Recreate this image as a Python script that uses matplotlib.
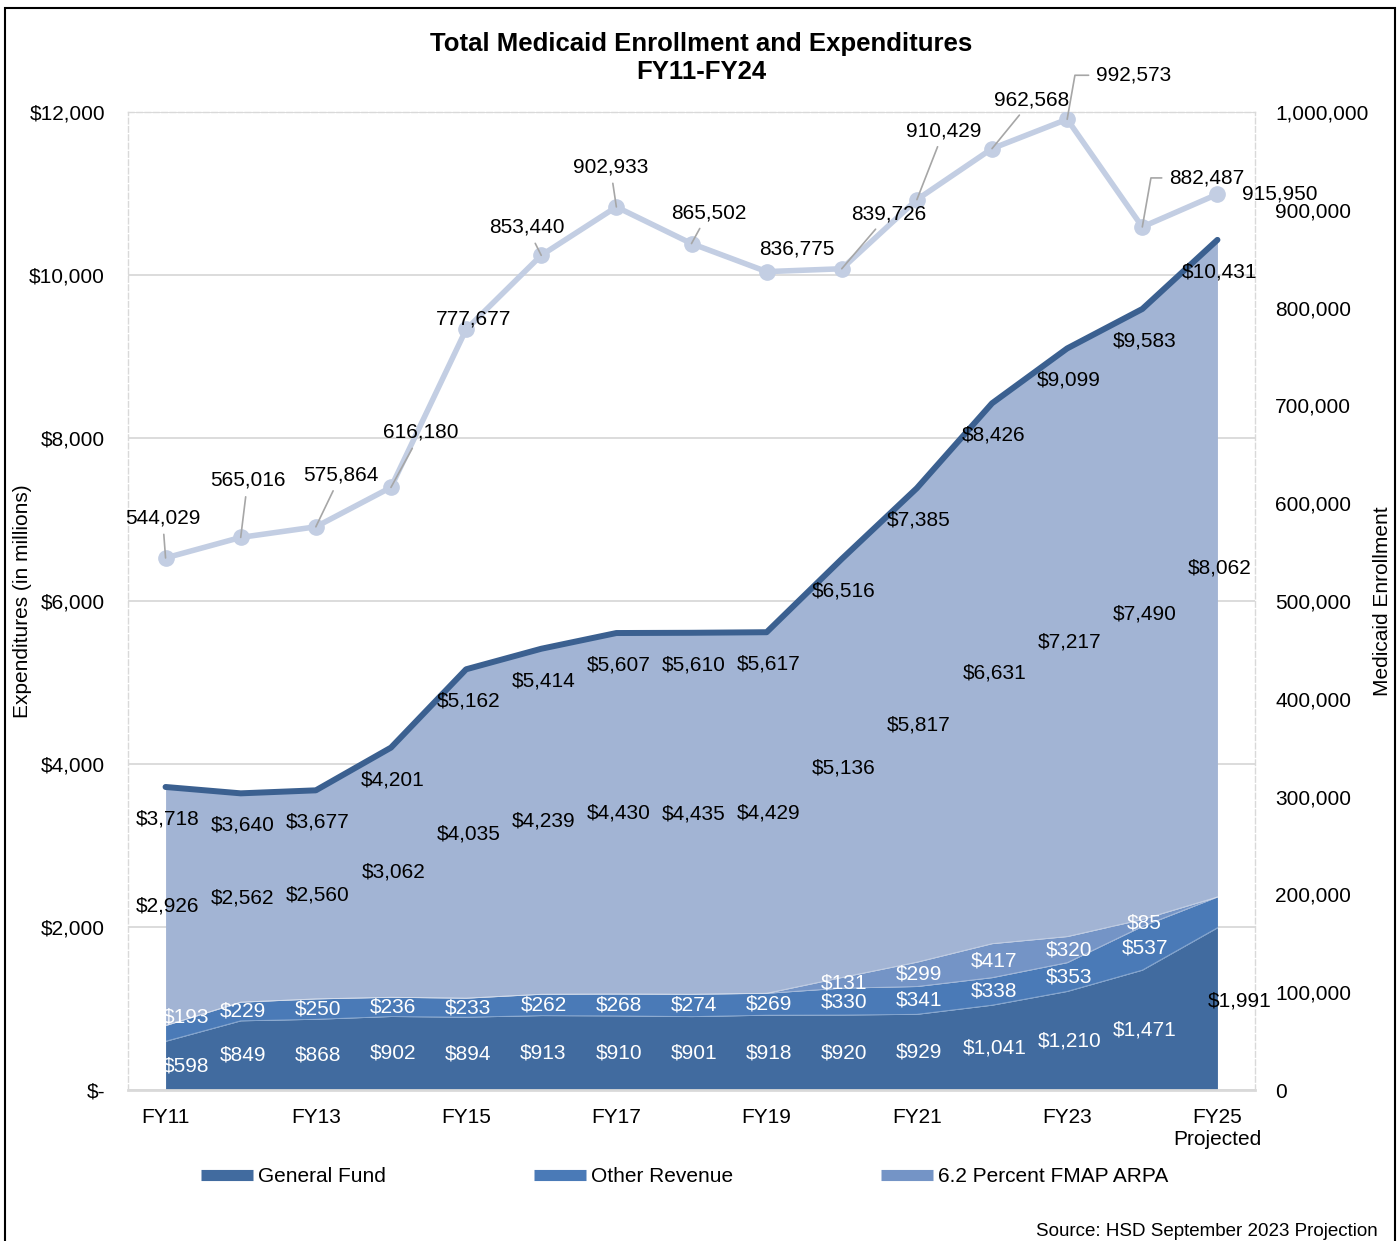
import matplotlib
matplotlib.use("Agg")
from matplotlib import pyplot as plt
from matplotlib.lines import Line2D
from matplotlib.patches import Rectangle
from matplotlib.ticker import FuncFormatter, MultipleLocator
import numpy as np

plt.rcParams['font.family'] = ['Liberation Sans', 'DejaVu Sans']

# fiscal years FY11..FY25
years = ["FY11", "FY12", "FY13", "FY14", "FY15", "FY16", "FY17", "FY18",
         "FY19", "FY20", "FY21", "FY22", "FY23", "FY24", "FY25\nProjected"]

general_fund = [598, 849, 868, 902, 894, 913, 910, 901, 918, 920, 929, 1041, 1210, 1471, 1991]
other_revenue = [193, 229, 250, 236, 233, 262, 268, 274, 269, 330, 341, 338, 353, 537, 378]
fmap_arpa = [0, 0, 0, 0, 0, 0, 0, 0, 0, 131, 299, 417, 320, 85, 0]
federal = [2926, 2562, 2560, 3062, 4035, 4239, 4430, 4435, 4429, 5136, 5817, 6631, 7217, 7490, 8062]
total = [3718, 3640, 3677, 4201, 5162, 5414, 5607, 5610, 5617, 6516, 7385, 8426, 9099, 9583, 10431]
enrollment = [544029, 565016, 575864, 616180, 777677, 853440, 902933, 865502,
              836775, 839726, 910429, 962568, 992573, 882487, 915950]

# label offsets for enrollment (pixels)
enr_offsets = [(-3, 40), (7, 57), (25, 52), (30, 55), (7, 10), (-14, 28), (-6, 40), (17, 31),
               (30, 23), (47, 55), (27, 69), (40, 49), (66, 44), (64, 49), (62, 0)]
no_leader = [4, 8, 14]

c_gf = "#416B9F"
c_or = "#4A7AB7"
c_fmap = "#7494C6"
c_fed = "#A2B4D4"
c_total = "#3B6090"
c_enr = "#C3CEE3"

x = np.arange(len(years))
gf = np.array(general_fund)
orv = np.array(other_revenue)
fm = np.array(fmap_arpa)
fed = np.array(federal)
b1 = gf
b2 = b1 + orv
b3 = b2 + fm
b4 = b3 + fed

fig = plt.figure(figsize=(14, 12.41), dpi=100)
ax = fig.add_axes([128 / 1400, 1 - 1090 / 1241, (1255 - 128) / 1400, (1090 - 112) / 1241])

ax.fill_between(x, 0, b1, color=c_gf, lw=0, zorder=2)
ax.fill_between(x, b1, b2, color=c_or, lw=0, zorder=2)
ax.fill_between(x, b2, b3, color=c_fmap, lw=0, zorder=2)
ax.fill_between(x, b3, b4, color=c_fed, lw=0, zorder=2)
for b in (b1, b2, b3):
    ax.plot(x, b, color="white", lw=0.6, alpha=0.35, zorder=3)
ax.plot(x, total, color=c_total, lw=4.3, solid_capstyle="round", solid_joinstyle="round", zorder=4)

ax.set_xlim(-0.5, 14.5)
ax.set_ylim(0, 12000)
ax.yaxis.set_major_locator(MultipleLocator(2000))
ax.yaxis.set_major_formatter(FuncFormatter(lambda v, p: "$-" if v == 0 else "${:,.0f}".format(v)))
ax.grid(axis="y", color="#D9D9D9", lw=1.3, zorder=0)
ax.set_axisbelow(True)
ax.set_xticks(x[::2])
ax.set_xticklabels(years[::2], fontsize=15, linespacing=1.2)
ax.tick_params(axis="x", length=0, pad=13)
ax.tick_params(axis="y", length=0, pad=16.5, labelsize=15)
for s in ("left", "top", "right"):
    ax.spines[s].set_color("#D9D9D9")
    ax.spines[s].set_linestyle((0, (4, 2)))
    ax.spines[s].set_linewidth(1)
ax.spines["bottom"].set_color("#D9D9D9")
ax.spines["bottom"].set_linewidth(2)

# data labels
for i in x:
    ax.annotate("${:,}".format(total[i]), (i, total[i]), xytext=(2, -32), textcoords="offset pixels",
                ha="center", va="center", fontsize=15, color="black", zorder=6)
    ax.text(i + 0.03, b3[i] + fed[i] / 2, "${:,}".format(federal[i]), ha="center", va="center",
            fontsize=15, color="black", zorder=6)
    if i < 14:
        shift = 0.27 if i == 0 else 0.03
        ax.text(i + shift, gf[i] / 2, "${:,}".format(general_fund[i]), ha="center", va="center",
                fontsize=15, color="white", zorder=6)
        yo = b1[i] + orv[i] / 2
        if i == 0:
            yo += 200
        ax.text(i + shift, yo, "${:,}".format(other_revenue[i]), ha="center", va="center",
                fontsize=15, color="white", zorder=6)
    else:
        ax.text(i + 0.3, gf[i] / 2 + 100, "${:,}".format(general_fund[i]), ha="center", va="center",
                fontsize=15, color="black", zorder=6)
    if fmap_arpa[i] > 0:
        ax.text(i + 0.03, b2[i] + fm[i] / 2, "${:,}".format(fmap_arpa[i]), ha="center", va="center",
                fontsize=15, color="white", zorder=6)

ax.set_ylabel("Expenditures (in millions)", fontsize=15)
ax.yaxis.set_label_coords(-0.085, 0.5)

# enrollment on right axis
ax2 = ax.twinx()
ax2.set_ylim(0, 1000000)
ax2.yaxis.set_major_locator(MultipleLocator(100000))
ax2.yaxis.set_major_formatter(FuncFormatter(lambda v, p: "{:,.0f}".format(v)))
ax2.tick_params(axis="y", length=0, pad=14.4, labelsize=15)
for s in ax2.spines.values():
    s.set_visible(False)
ax2.plot(x, enrollment, color=c_enr, lw=4, marker="o", markersize=11, zorder=3)
for i in x:
    dx, dy = enr_offsets[i]
    if i in no_leader:
        ax2.annotate("{:,}".format(enrollment[i]), (i, enrollment[i]), xytext=(dx, dy),
                     textcoords="offset pixels", ha="center", va="center", fontsize=15, zorder=6)
    else:
        cs = "arc3"
        if i in (12, 13):
            cs = "angle,angleA=0,angleB=80"
        ax2.annotate("{:,}".format(enrollment[i]), (i, enrollment[i]), xytext=(dx, dy),
                     textcoords="offset pixels", ha="center", va="center", fontsize=15, zorder=6,
                     arrowprops=dict(arrowstyle="-", color="#A6A6A6", lw=1.2, shrinkA=3, shrinkB=0,
                                     connectionstyle=cs))
ax2.set_ylabel("Medicaid Enrollment", fontsize=15)
ax2.yaxis.set_label_coords(1.105, 0.5)

fig.text(0.501, 1 - 58 / 1241, "Total Medicaid Enrollment and Expenditures\nFY11-FY24",
         ha="center", va="center", fontsize=18.5, fontweight="bold", linespacing=1.25)

handles = [Line2D([], [], color=c, lw=8, solid_capstyle="butt") for c in (c_gf, c_or, c_fmap)]
fig.legend(handles, ["General Fund", "Other Revenue", "6.2 Percent FMAP ARPA"], loc="center",
           bbox_to_anchor=(0.489, 1 - 1177 / 1241), ncol=3, frameon=False, fontsize=15,
           handlelength=2.5, handletextpad=0.25, columnspacing=7.1)

fig.text(1378 / 1400, 1 - 1231 / 1241, "Source: HSD September 2023 Projection", ha="right",
         va="center", fontsize=13.5)

fig.patches.append(Rectangle((5 / 1400, -0.01), 1390 / 1400, 1 - 8 / 1241 + 0.01, transform=fig.transFigure,
                             fill=False, edgecolor="black", lw=1.5))

plt.savefig("out.png", dpi=100)
